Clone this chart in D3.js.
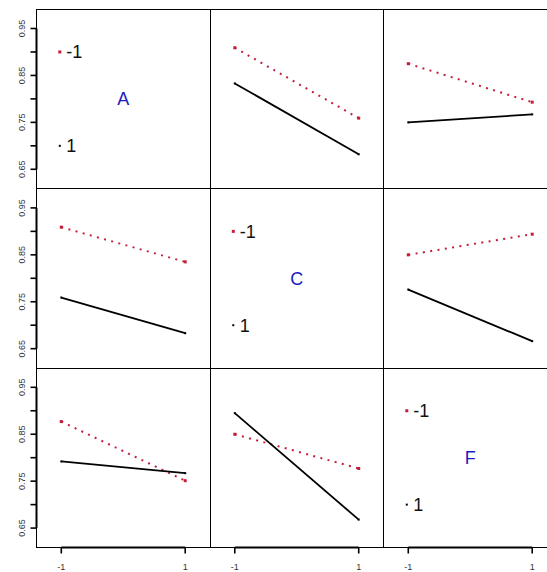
<!DOCTYPE html>
<html>
<head>
<meta charset="utf-8">
<script src="https://cdn.jsdelivr.net/npm/d3@7"></script>
<style>
	body { margin: 0; background: #fff; }
	svg { display: block; font-family: 'Liberation Sans', Arial, sans-serif; }
</style>
</head>
<body>
<svg id="chart"></svg>
<script>
const FACTORS = ['A', 'C', 'F'];
const LEVELS = ['-1', '1'];
const X_LEVELS = [-1, 1];
const X_TICK_LABELS = ['-1', '1'];
const Y_TICKS = [0.65, 0.70, 0.75, 0.80, 0.85, 0.90, 0.95];
const Y_TICK_LABELS = ['0.65', '', '0.75', '', '0.85', '', '0.95'];
const LEGEND_VALUES = [0.90, 0.70];

// mean response, row factor / column factor, trace level -1 then 1
const A_C_LOW = [0.909, 0.759];
const A_C_HIGH = [0.833, 0.682];
const A_F_LOW = [0.875, 0.793];
const A_F_HIGH = [0.750, 0.767];
const C_A_LOW = [0.909, 0.835];
const C_A_HIGH = [0.759, 0.683];
const C_F_LOW = [0.850, 0.894];
const C_F_HIGH = [0.776, 0.666];
const F_A_LOW = [0.877, 0.751];
const F_A_HIGH = [0.792, 0.767];
const F_C_LOW = [0.850, 0.777];
const F_C_HIGH = [0.895, 0.668];

const SERIES = {
	'A-C': [A_C_LOW, A_C_HIGH],
	'A-F': [A_F_LOW, A_F_HIGH],
	'C-A': [C_A_LOW, C_A_HIGH],
	'C-F': [C_F_LOW, C_F_HIGH],
	'F-A': [F_A_LOW, F_A_HIGH],
	'F-C': [F_C_LOW, F_C_HIGH]
};

const COLORS = ['#c41e3a', '#000'];
const LABEL_COLOR = '#1a1ac0';

const SVG_WIDTH = 547;
const SVG_HEIGHT = 572;
const MARGIN = { top: 9.5, left: 36.5 };
const PANEL_W = 173.5;
const PANEL_H = 179.4;

const svg = d3.select('#chart')
	.attr('width', SVG_WIDTH)
	.attr('height', SVG_HEIGHT);

const crisp = v => Math.floor(v) + 0.5;

FACTORS.forEach((rowF, i) => {
	FACTORS.forEach((colF, j) => {
		const left = MARGIN.left + j * PANEL_W;
		const top = MARGIN.top + i * PANEL_H;

		const x = d3.scaleLinear().domain([-1.4, 1.4]).range([left, left + PANEL_W]);
		const y = d3.scaleLinear().domain([0.6082, 0.9905]).range([top + PANEL_H, top]);

		const g = svg.append('g');

		// panel box, snapped so neighbours share one edge
		const bx0 = crisp(left), bx1 = crisp(left + PANEL_W);
		const by0 = crisp(top), by1 = crisp(top + PANEL_H);
		g.append('rect')
			.attr('x', bx0)
			.attr('y', by0)
			.attr('width', bx1 - bx0)
			.attr('height', by1 - by0)
			.attr('fill', 'none')
			.attr('stroke', '#000')
			.attr('stroke-width', 1);

		if (i === j) {
			// factor name and level legend
			g.append('text')
				.attr('x', x(0))
				.attr('y', y(0.8))
				.attr('dy', '0.35em')
				.attr('text-anchor', 'middle')
				.attr('font-size', 18)
				.attr('fill', LABEL_COLOR)
				.text(rowF);

			const leg = g.selectAll('.legend')
				.data(LEVELS)
				.enter()
				.append('g')
					.attr('transform', (d, k) => 'translate(' + x(-1) + ', ' + y(LEGEND_VALUES[k]) + ')');

			leg.append('rect')
				.attr('x', (d, k) => k === 0 ? -3 : -2.5)
				.attr('y', (d, k) => k === 0 ? -1.5 : -1)
				.attr('width', (d, k) => k === 0 ? 3 : 2)
				.attr('height', (d, k) => k === 0 ? 3 : 2)
				.attr('fill', (d, k) => COLORS[k]);

			leg.append('text')
				.attr('x', 5)
				.attr('dy', '0.36em')
				.attr('font-size', 18)
				.attr('fill', '#111')
				.text(d => d);
		} else {
			const series = SERIES[rowF + '-' + colF];
			series.forEach((values, k) => {
				const pts = values.map((v, n) => [X_LEVELS[n], v]);
				g.append('path')
					.attr('d', d3.line().x(d => x(d[0])).y(d => y(d[1]))(pts))
					.attr('fill', 'none')
					.attr('stroke', COLORS[k])
					.attr('stroke-width', k === 0 ? 2 : 1.8)
					.attr('stroke-dasharray', k === 0 ? '2 5.4' : null);

				g.selectAll('.pt' + k)
					.data(pts)
					.enter()
					.append('rect')
						.attr('x', d => x(d[0]) - (k === 0 ? 1.5 : 1))
						.attr('y', d => y(d[1]) - (k === 0 ? 1.5 : 1))
						.attr('width', k === 0 ? 3 : 2)
						.attr('height', k === 0 ? 3 : 2)
						.attr('fill', COLORS[k]);
			});
		}

		// Y-Axis on the first column
		if (j === 0) {
			const ax = g.append('g').attr('transform', 'translate(' + bx0 + ', 0)');
			ax.append('line')
				.attr('y1', y(Y_TICKS[0]))
				.attr('y2', y(Y_TICKS[Y_TICKS.length - 1]))
				.attr('stroke', '#000')
				.attr('stroke-width', 2);
			const t = ax.selectAll('.ytick')
				.data(Y_TICKS)
				.enter()
				.append('g')
					.attr('transform', d => 'translate(0, ' + y(d) + ')');
			t.append('line')
				.attr('x1', -6)
				.attr('stroke', '#000')
				.attr('stroke-width', 1.6);
			t.append('text')
				.attr('transform', 'rotate(-90)')
				.attr('y', -11.5)
				.attr('text-anchor', 'middle')
				.attr('font-size', 9)
				.attr('fill', '#333')
				.text((d, k) => Y_TICK_LABELS[k]);
		}

		// X-Axis on the last row
		if (i === FACTORS.length - 1) {
			const ax = g.append('g').attr('transform', 'translate(0, ' + by1 + ')');
			ax.append('line')
				.attr('x1', x(X_LEVELS[0]))
				.attr('x2', x(X_LEVELS[1]))
				.attr('stroke', '#000')
				.attr('stroke-width', 2);
			const t = ax.selectAll('.xtick')
				.data(X_LEVELS)
				.enter()
				.append('g')
					.attr('transform', d => 'translate(' + x(d) + ', 0)');
			t.append('line')
				.attr('y2', 6)
				.attr('stroke', '#000')
				.attr('stroke-width', 1.6);
			t.append('text')
				.attr('y', 22)
				.attr('text-anchor', 'middle')
				.attr('font-size', 9)
				.attr('fill', '#333')
				.text((d, k) => X_TICK_LABELS[k]);
		}
	});
});
</script>
</body>
</html>
